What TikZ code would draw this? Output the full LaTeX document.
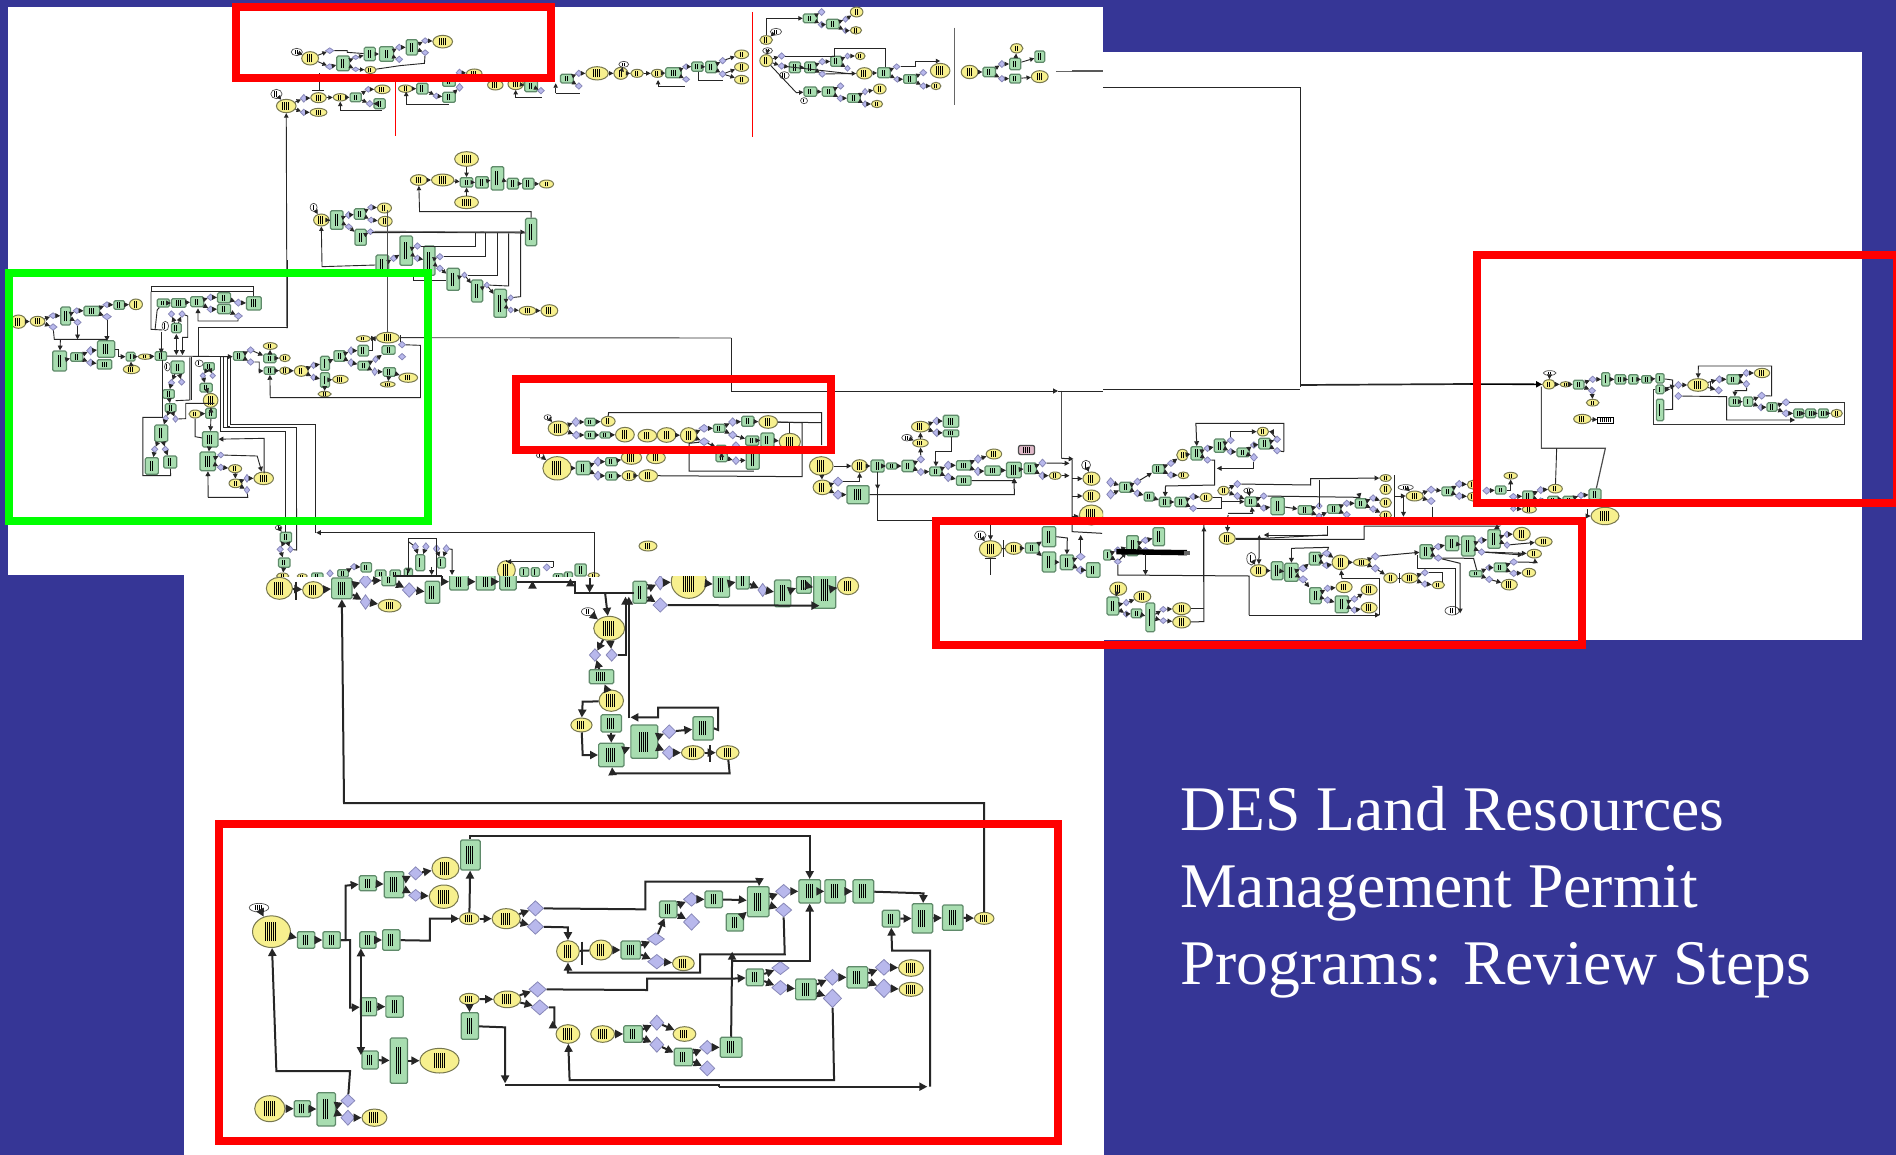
\documentclass[tikz,border=0pt]{standalone}
\usepackage{fontspec}
\setmainfont{Liberation Serif}
\usetikzlibrary{arrows.meta,shapes.geometric}
\definecolor{bgblue}{HTML}{363696}
\definecolor{gfill}{HTML}{A8DDB0}
\definecolor{gline}{HTML}{5F8A6A}
\definecolor{yfill}{HTML}{F7F08E}
\definecolor{yline}{HTML}{77774F}
\definecolor{dfill}{HTML}{B8B8EC}
\definecolor{dline}{HTML}{8888B8}
\definecolor{pinkf}{HTML}{DFB8C8}
\definecolor{frred}{HTML}{FF0000}
\definecolor{frgreen}{HTML}{00FF00}
\tikzset{
 gbox/.style={draw=gline,fill=gfill,rounded corners=.7pt,line width=.6pt,inner sep=0pt},
 ybox/.style={draw=yline,fill=yfill,ellipse,line width=.5pt,inner sep=0pt},
 dbox/.style={draw=dline,fill=dfill,diamond,line width=.4pt,inner sep=0pt},
 wbox/.style={draw=black!70,fill=white,ellipse,line width=.35pt,inner sep=0pt},
 frame/.style={line width=4pt},
 w/.style={draw=black!85,line width=\lwv},
 wa/.style={w,-{Triangle[length=\tipv,width=\tipv]}},
 wb/.style={w,{Triangle[length=\tipv,width=\tipv]}-{Triangle[length=\tipv,width=\tipv]}},
}
\newcommand\sxv{1}\newcommand\lwv{.5pt}\newcommand\tipv{2pt}
\newcount\mkc
\newcommand\mk[2]{\hbox{\mkc=0 \loop\ifnum\mkc<#1 \vrule width .45pt height #2pt depth 0pt\kern.55pt \advance\mkc by 1 \repeat}}
\newcommand\nodeset[2]{\foreach \n/\x/\y/\w/\h in {#2}{%
  \pgfmathsetmacro\wpt{\w/\sxv*.5}\pgfmathsetmacro\hpt{\h/3*.5}%
  \pgfmathtruncatemacro\nb{max(1,min(6,\wpt*.42))}\pgfmathsetmacro\hb{\hpt*.6}%
  \node[#1,minimum width=\wpt pt,minimum height=\hpt pt] (\n) at (\x,\y) {\mk{\nb}{\hb}};}}
\newcommand\RR[1]{\nodeset{gbox}{#1}}
\newcommand\EE[1]{\nodeset{ybox}{#1}}
\newcommand\TT[1]{\nodeset{wbox}{#1}}
\newcommand\DD[1]{\foreach \n/\x/\y/\w/\h in {#1}{%
  \pgfmathsetmacro\wpt{\w/\sxv*.5}\pgfmathsetmacro\hpt{\h/3*.5}%
  \node[dbox,minimum width=\wpt pt,minimum height=\hpt pt] (\n) at (\x,\y) {};}}
\newcommand\AR[1]{\foreach \a/\b in {#1}{\draw[wa] (\a) -- (\b);}}
\begin{document}
\begin{tikzpicture}[x=.5pt,y=-.5pt]
\useasboundingbox (0,0) rectangle (1896,1155);
\clip (0,0) rectangle (1896,1155);
\fill[bgblue] (0,0) rectangle (1896,1155);
\fill[white] (8,7) rectangle (1103,575);
\fill[white] (184,575) rectangle (1104,1155);
\fill[white] (1103,52) rectangle (1862,640);

% ---- ZONE 2: top clusters
\begin{scope}[shift={(0,0)},x=.3508pt,y=-.16667pt]
\renewcommand\sxv{1.4255}\renewcommand\lwv{.45pt}\renewcommand\tipv{2.2pt}
\TT{b1/423/156/16/22,b17/394/282/16/28,b46/889/193/14/18,b60/1106/95/16/20,b62/1094/152/14/18,b63/1118/226/14/22,b64/1146/302/10/18,b120/447/622/10/24}
\EE{b2/442/175/24/40,b10/528/210/16/22,b16/631/125/28/38,b18/408/318/28/40,b21/454/293/22/30,b22/454/337/24/24,b23/485/292/20/22,b27/545/268/22/26,b29/578/266/20/22,b36/676/220/22/26,b37/706/255/22/30,b38/735/252/22/34,b44/851/220/32/40,b45/885/220/20/36,b47/908/220/18/24,b48/937/220/18/24,b56/1057/163/20/26,b57/1057/201/20/26,b58/1057/239/20/26,b59/1092/120/18/26,b61/1092/182/18/36,b71/1221/36/18/30,b72/1220/91/16/22,b82/1226/168/14/22,b83/1232/220/22/34,b90/1334/258/14/22,b91/1340/212/28/44,b92/1382/216/24/40,b98/1449/145/18/28,b100/1482/230/24/36,b108/1254/267/18/30,b109/1250/312/16/22,b110/597/540/24/32,b111/631/540/32/36,b112/665/477/34/44,b113/665/607/34/38,b119/779/552/20/24,b121/458/660/22/36,b128/548/624/20/30,b129/549/664/20/30,b147/752/932/24/26,b148/783/932/24/36}
\RR{b5/489/190/18/44,b8/527/162/16/40,b9/551/162/20/44,b13/587/142/16/46,b24/507/292/16/26,b28/541/311/16/30,b30/602/266/16/32,b32/640/244/18/30,b33/640/292/18/30,b39/757/258/18/34,b41/808/236/18/26,b49/960/218/22/30,b52/994/200/16/28,b53/1014/201/16/34,b65/1155/55/20/26,b68/1187/72/18/28,b75/1133/202/16/32,b76/1155/202/16/32,b79/1192/184/16/30,b84/1260/218/18/30,b87/1297/237/18/26,b93/1410/216/18/28,b96/1447/192/16/34,b97/1447/236/16/26,b99/1482/170/14/34,b101/1155/275/18/28,b102/1181/275/18/28,b105/1217/294/18/26,b114/665/547/18/28,b115/687/547/18/34,b116/709/535/18/70,b117/731/551/16/32,b118/753/551/16/32,b122/480/660/18/56,b125/513/642/16/32,b130/514/712/16/48,b132/545/795/18/60,b133/579/752/18/88,b134/612/782/16/88,b140/646/838/18/66,b141/680/873/16/66,b142/713/910/18/84,b149/757/696/16/82}
\DD{b3/470/152/12/18,b4/470/200/12/18,b6/507/172/10/14,b7/507/208/10/14,b11/569/142/10/20,b12/569/178/10/20,b14/606/122/10/18,b15/606/158/10/18,b19/433/295/10/24,b20/433/337/10/20,b25/525/268/10/18,b26/527/311/10/20,b31/622/288/10/18,b34/655/218/10/22,b35/655/262/10/24,b40/771/272/10/20,b42/825/220/10/20,b43/825/258/10/20,b50/978/200/10/18,b51/978/238/10/18,b54/1030/182/10/20,b55/1030/222/10/20,b66/1171/36/10/22,b67/1171/74/10/20,b69/1205/58/8/18,b70/1205/92/8/18,b73/1114/168/10/20,b74/1114/198/10/20,b77/1172/185/10/20,b78/1172/222/10/20,b80/1208/168/8/18,b81/1208/205/8/18,b85/1278/200/10/18,b86/1279/238/10/18,b88/1316/218/10/20,b89/1316/258/10/20,b94/1428/192/10/22,b95/1428/236/10/20,b103/1198/258/10/20,b104/1198/295/10/20,b106/1233/275/8/20,b107/1233/312/8/20,b123/497/645/10/22,b124/497/680/10/18,b126/529/622/10/18,b127/529/660/10/18,b131/528/695/10/18,b135/561/775/10/20,b136/595/738/10/20,b137/595/775/10/20,b138/627/770/10/20,b139/627/805/10/20,b143/662/825/8/18,b144/694/855/8/18,b145/728/893/8/18,b146/728/930/8/18}
\AR{b2/b3,b2/b4,b4/b5,b5/b6,b5/b7,b7/b10,b6/b8,b8/b9,b9/b11,b9/b12,b11/b13,b13/b14,b13/b15,b14/b16,b18/b19,b18/b20,b19/b21,b20/b22,b21/b23,b23/b24,b24/b25,b24/b26,b25/b27,b26/b28,b29/b30,b30/b31,b31/b33,b33/b35,b32/b34,b34/b36,b38/b39,b39/b40,b41/b42,b41/b43,b42/b44,b44/b45,b45/b47,b47/b48,b48/b49,b49/b50,b49/b51,b50/b52,b52/b53,b53/b54,b53/b55,b54/b56,b55/b57,b55/b58,b65/b66,b65/b67,b67/b68,b68/b69,b68/b70,b69/b71,b70/b72,b61/b73,b61/b74,b74/b75,b75/b76,b76/b77,b76/b78,b77/b79,b79/b80,b79/b81,b80/b82,b78/b83,b83/b84,b84/b85,b84/b86,b86/b87,b87/b88,b87/b89,b89/b90,b92/b93,b93/b94,b93/b95,b94/b96,b95/b97,b96/b98,b97/b100,b96/b99,b101/b102,b102/b103,b102/b104,b104/b105,b105/b106,b105/b107,b106/b108,b107/b109,b110/b111,b112/b114,b113/b114,b111/b114,b114/b115,b115/b116,b116/b117,b117/b118,b118/b119,b121/b122,b122/b123,b122/b124,b123/b125,b125/b126,b125/b127,b126/b128,b127/b129,b124/b130,b130/b131,b132/b135,b135/b133,b133/b136,b133/b137,b137/b134,b134/b138,b134/b139,b139/b140,b140/b143,b143/b141,b141/b144,b144/b142,b142/b145,b142/b146,b146/b147,b147/b148,b120/b121,b17/b18,b1/b2,b46/b45,b60/b59,b62/b61}
\draw[w] (455,220) -- (455,270) (445,272) -- (462,272);
\draw[w] (b3) -| (495,157) -- (b8);
\draw[w] (b10) -- (570,197) -- (605,190) -- (b15);
\draw[wa] (579,313) -- (579,275); \draw[w] (579,313) -- (640,313);
\draw[wa] (485,330) -- (485,305); \draw[w] (485,330) -- (545,330);
\draw[wa] (735,293) -- (735,270); \draw[w] (735,293) -- (772,293);
\draw[wa] (792,280) -- (792,250); \draw[w] (792,280) -- (826,280);
\draw[wa] (938,258) -- (938,240); \draw[w] (938,258) -- (977,258);
\draw[w] (995,215) -- (995,240) -- (1030,240);
\draw[wa] (b59) |- (b65);
\draw[wa] (b61) -- (1135,278) -- (b101);
\draw[w] (b73) -| (1190,145) -- (1262,145) -- (1262,200);
\draw[w] (b74) -- (1215,222);
\draw[wa] (b85) -- (1305,200) -- (1305,183) -- (1340,183);
\draw[wa] (b149.north) |- (598,635) -- (b110.south);
\draw[wa] (b132.west) -- (459,800) -- (b121.south);
\draw[w,line width=.9pt,black!55] (b131) -- (750,698);
\draw[wa] (530,698) -- (b149.west);
\draw[w] (677,700) -- (677,738) -- (b136);
\draw[w] (692,700) -- (692,770) -- (b138);
\draw[w] (709,700) -- (709,825) -- (b143);
\draw[w] (725,700) -- (725,858) -- (b144);
\draw[w] (742,700) -- (742,890) -- (b145);
\draw[w] (590,830) -- (590,840) -- (635,840);
\draw[wa] (409,985) -- (b18.south);
\draw[w,black!60,line width=.6pt] (1505,215) -- (1568,215);
\draw[w,black!60] (1361,83) -- (1361,314);
\end{scope}
\draw[frred,line width=.45pt] (395,80) -- (395,136) (752,12) -- (752,137);

% ---- ZONE 3: green frame contents
\begin{scope}[shift={(0,260)},x=.2041pt,y=-.16667pt]
\renewcommand\sxv{2.45}\renewcommand\lwv{.45pt}\renewcommand\tipv{2.4pt}
\TT{c35/405/198/16/28,c38/410/320/14/26,c80/488/310/20/20}
\EE{c1/45/185/38/40,c2/92/184/36/30,c12/333/133/32/32,c20/322/328/40/26,c21/356/290/34/16,c53/662/258/34/20,c55/698/294/26/22,c57/698/332/26/22,c58/738/333/34/32,c63/834/358/38/24,c64/795/402/32/16,c70/890/236/34/18,c71/950/233/56/32,c78/950/373/36/16,c79/1000/353/46/28,c85/516/421/36/42,c86/478/462/30/24,c92/576/626/32/24,c93/577/670/32/26,c96/646/655/48/38}
\RR{c5/161/168/24/54,c8/225/153/38/28,c11/292/135/26/26,c13/146/303/34/60,c14/188/291/30/26,c17/260/267/42/50,c18/256/313/36/28,c19/320/290/22/26,c22/394/288/28/26,c23/400/129/30/24,c24/438/129/36/26,c25/483/125/32/30,c28/549/113/32/30,c29/549/147/32/28,c32/622/130/36/40,c36/432/204/24/28,c37/435/322/32/38,c41/413/402/28/26,c42/418/444/26/26,c45/395/520/32/50,c48/372/618/32/50,c49/417/606/32/36,c50/586/288/28/26,c54/661/295/30/26,c56/661/332/28/22,c61/796/310/22/42,c62/796/360/22/44,c65/832/288/28/32,c68/890/272/26/32,c69/891/317/28/26,c74/952/270/32/26,c75/954/336/30/26,c81/512/320/26/24,c84/505/383/30/26,c87/517/460/26/30,c88/515/538/38/46,c89/509/604/38/56}
\DD{c3/130/167/20/18,c4/130/201/20/20,c6/188/152/18/18,c7/190/187/18/20,c9/262/134/20/18,c10/262/170/22/20,c15/222/272/20/26,c16/222/308/20/22,c26/516/112/18/20,c27/516/148/18/20,c30/584/128/20/22,c31/584/168/20/20,c33/420/162/16/20,c34/446/162/16/20,c39/420/368/16/20,c40/445/366/16/20,c43/406/475/14/20,c44/430/477/14/20,c46/379/568/16/20,c47/405/568/16/20,c51/614/270/18/20,c52/614/306/18/20,c59/768/316/14/20,c60/768/352/14/20,c66/860/272/16/24,c67/860/308/16/24,c72/920/298/14/20,c73/918/335/14/24,c76/985/254/18/20,c77/985/290/18/20,c82/497/347/14/18,c83/521/347/14/18,c90/541/585/16/18,c91/541/622/18/20,c94/605/655/14/24,c95/605/690/14/22}
\AR{c1/c2,c2/c3,c2/c4,c3/c5,c5/c6,c5/c7,c6/c8,c8/c9,c8/c10,c9/c11,c11/c12,c13/c14,c14/c15,c14/c16,c15/c17,c16/c18,c19/c21,c21/c22,c20/c19,c50/c51,c50/c52,c51/c54,c54/c53,c54/c55,c56/c57,c57/c58,c58/c59,c58/c60,c59/c61,c60/c62,c61/c65,c62/c63,c62/c64,c65/c66,c65/c67,c66/c68,c67/c69,c69/c72,c69/c73,c72/c74,c73/c75,c75/c78,c75/c79,c70/c71,c23/c24,c24/c25,c25/c26,c25/c27,c26/c28,c27/c29,c28/c30,c29/c31,c30/c32,c36/c33,c36/c34,c37/c39,c37/c40,c39/c41,c41/c42,c42/c43,c42/c44,c43/c45,c45/c46,c45/c47,c46/c48,c47/c49,c81/c82,c81/c83,c82/c84,c84/c85,c85/c87,c86/c87,c87/c88,c88/c89,c89/c90,c89/c91,c91/c92,c92/c93,c93/c94,c93/c95,c94/c96}
\draw[w] (c4) -- (133,238) -- (262,238);
\draw[wa] (148,238) -- (c13); \draw[wa] (c7) -- (190,238); \draw[wa] (c10) -- (262,243);
\draw[wa] (c17.east) -- (290,267) -- (290,290) -- (c19);
\draw[wa] (c22) -- (570,290);
\draw[wa] (c52) -- (635,306) -- (635,333) -- (c56);
\draw[wa] (c68) -- (912,272) -- (912,236) -- (c70);
\draw[w,black!70] (c71.north) -- (950,-150);
\draw[w] (982,225) -- (982,245);
\draw[w,black!80] (c71.east) -- (1791,234);
\draw[wa] (c76) -- (1030,256) -- (1030,413) -- (662,413) -- (c56);
\draw[w] (487,290) -- (487,203) -- (705,203) -- (705,0);
\draw[w] (370,95) -- (370,80) -- (622,80) -- (c32);
\draw[w] (370,95) -- (622,95);
\draw[w] (370,95) -- (370,208) -- (398,210);
\draw[w] (c23) -- (385,150) -- (380,208);
\draw[wa] (395,215) -- (395,280);
\draw[wb] (432,222) -- (432,285);
\draw[wa] (c34) -- (460,168) -- (460,232) -- (447,232) -- (447,285);
\draw[wa] (c31) -- (583,183) -- (485,183) -- (485,145);
\draw[w] (398,300) -- (398,472) -- (350,472) -- (350,647) -- (418,647) -- (c49);
\draw[w] (465,292) -- (465,420) -- (430,422);
\draw[w] (470,292) -- (470,420);
\draw[w] (c44) -- (455,476) -- (455,430) -- (525,430);
\draw[w] (540,292) -- (540,515) -- (700,515) -- (700,770);
\draw[w] (548,292) -- (548,503) -- (726,503) -- (726,870);
\draw[w] (564,292) -- (564,492) -- (773,492) -- (773,818);
\draw[w] (556,292) -- (556,498) -- (564,498);
\draw[wa] (647,640) -- (647,535) -- (c88);
\draw[wa] (510,712) -- (c89);
\draw[w] (510,712) -- (607,712) -- (c95);
\draw[wa] (c90) -- (630,588) -- (c96);
\draw[w] (c86) -- (478,530) -- (c88);
\end{scope}

% ---- ZONE 5: middle row
\begin{scope}[shift={(500,360)},x=.2041pt,y=-.16667pt]
\renewcommand\sxv{2.45}\renewcommand\lwv{.5pt}\renewcommand\tipv{2.4pt}
\TT{e1/117/172/18/16,e23/98/286/18/16,e47/997/233/26/20}
\EE{e2/143/205/50/44,e8/265/184/34/30,e9/306/224/46/44,e10/361/227/46/38,e11/408/225/46/44,e12/462/226/40/46,e19/657/186/46/38,e22/710/245/52/50,e24/140/325/70/70,e30/322/293/50/40,e31/382/293/46/36,e32/316/347/34/30,e33/363/347/46/36,e39/787/318/58/56,e40/881/318/38/38,e46/1030/249/38/24,e48/1030/200/44/32,e60/1210/282/38/30,e66/1360/347/30/22,e67/790/382/46/44}
\RR{e5/221/186/26/22,e6/221/225/26/22,e7/258/225/26/18,e15/537/205/28/24,e18/607/184/30/30,e20/618/242/32/28,e21/655/240/32/42,e25/204/324/34/40,e28/273/305/28/24,e29/273/348/28/24,e34/542/268/26/24,e35/543/292/28/26,e38/619/300/32/56,e41/925/318/32/36,e42/960/318/26/18,e43/1000/318/30/34,e51/1105/184/38/36,e52/1105/220/38/20,e53/1068/334/30/26,e56/1136/316/36/28,e57/1136/362/36/28,e61/1207/332/38/28,e62/1259/330/36/46,e63/1299/325/30/32,e70/877/404/54/54}
\DD{e3/186/186/20/28,e4/187/225/20/24,e13/500/205/26/24,e14/500/245/26/24,e16/570/186/20/26,e17/570/225/20/24,e26/240/305/20/28,e27/240/347/20/28,e36/578/256/18/22,e37/578/302/18/24,e44/1031/298/18/22,e45/1031/336/18/22,e49/1070/183/20/24,e50/1070/218/20/24,e54/1098/316/20/26,e55/1098/352/20/26,e58/1171/297/18/26,e59/1171/334/18/26,e64/1329/309/18/24,e65/1329/347/18/24,e68/828/365/24/28,e69/828/404/24/28}
\node[draw=black!70,fill=pinkf,rounded corners=1pt,line width=.6pt,minimum width=8pt,minimum height=4.6pt,inner sep=0pt] (e71) at (1290,270) {\mk{4}{3}};
\AR{e1/e2,e2/e3,e2/e4,e3/e5,e5/e8,e4/e6,e6/e7,e7/e9,e11/e12,e12/e13,e12/e14,e13/e15,e15/e16,e15/e17,e16/e18,e18/e19,e17/e20,e20/e21,e21/e22,e14/e34,e34/e35,e35/e36,e35/e37,e36/e38,e37/e38,e23/e24,e24/e25,e25/e26,e25/e27,e26/e28,e27/e29,e28/e30,e29/e32,e32/e33,e39/e40,e40/e41,e41/e42,e42/e43,e43/e44,e43/e45,e44/e46,e46/e48,e48/e49,e48/e50,e49/e51,e50/e52,e45/e53,e53/e54,e53/e55,e54/e56,e55/e57,e56/e58,e56/e59,e58/e60,e59/e61,e61/e62,e62/e63,e63/e64,e63/e65,e65/e66,e47/e46,e39/e67,e67/e68,e67/e69,e69/e70}
\draw[w] (e8.north) -- (266,158) -- (788,158) -- (788,255);
\draw[w] (e19) -- (788,188);
\draw[w] (e19) -- (740,188) -- (740,350) -- (e33);
\draw[w] (e22) -- (710,190);
\draw[w] (e14) -- (463,250) -- (463,333) -- (622,333);
\draw[w] (566,-66) -- (566,92);
\draw[wa] (e68) -- (881,365) -- (e40);
\draw[wa] (e70) -- (1260,404) -- (e62);
\draw[wa] (925,335) -- (925,388);
\draw[w] (925,388) -- (925,480) -- (1060,480);
\draw[wa] (e52) -- (1105,275) -- (1068,275) -- (e53);
\draw[wa] (e57) -- (1260,362) -- (e62);
\draw[w,black!70,line width=.6pt] (1375,92) -- (1375,295);
\draw[wa] (1375,295) -- (1405,297);
\draw[wa] (e64) -- (1395,310);
\draw[wa] (e66) -- (1395,347);
\end{scope}
\begin{scope}
\renewcommand\lwv{.5pt}\renewcommand\tipv{2.4pt}
\draw[wa] (731,391) -- (1058,391);
\draw[w] (1058,391) -- (1103,391);
\end{scope}

% ---- ZONE 6
\begin{scope}[shift={(920,400)},x=.2232pt,y=-.16667pt]
\renewcommand\sxv{2.24}\renewcommand\lwv{.5pt}\renewcommand\tipv{2.4pt}
\begin{scope}
\clip (0,-400) rectangle (410,1000);
\TT{f2/372/195/20/28,f5/135/406/26/26}
\EE{f1/384/236/38/40,f3/384/288/38/36,f4/384/345/54/60,f6/158/447/50/50,f7/210/445/38/36}
\RR{f8/251/444/30/30,f9/289/410/30/60,f10/289/486/30/60,f11/329/487/30/44,f14/388/510/30/44}
\DD{f12/360/470/20/22,f13/360/510/20/24}
\AR{f5/f6,f7/f8,f8/f9,f8/f10,f10/f11,f11/f12,f11/f13,f13/f14,f2/f1}
\draw[w] (f6) -- (f7);
\draw[w] (341,180) -- (341,395) -- (408,400);
\draw[wa] (341,236) -- (f1); \draw[wa] (341,288) -- (f3); \draw[wa] (341,350) -- (f4);
\draw[wa] (158,375) -- (f6.north);
\draw[w] (145,475) -- (171,475) (158,475) -- (158,525);
\draw[w] (186,420) -- (186,470);
\draw[wa] (f9.east) -- (330,414) -- (f11.north);
\draw[wa] (f12) -- (360,405);
\end{scope}
\begin{scope}
\clip (410,-400) rectangle (2000,1000);
\TT{f47/736/272/22/16,f65/1088/262/34/16,f94/742/476/20/38,f142/1192/632/32/26}
\EE{f21/588/165/26/34,f24/590/226/24/20,f32/768/95/26/26,f43/641/292/28/26,f44/680/272/26/26,f61/1043/234/26/20,f62/1043/268/26/30,f63/1043/308/26/28,f64/1043/346/26/26,f66/1108/288/38/30,f72/1238/254/24/26,f73/1238/290/24/26,f74/688/415/36/36,f83/444/566/38/40,f85/498/590/38/34,f92/586/626/40/36,f93/586/666/40/36,f95/759/512/38/36,f103/942/487/38/44,f104/990/487/38/22,f107/1054/534/30/30,f108/1097/534/36/30,f111/1161/555/28/22,f115/950/561/36/34,f119/1006/569/36/32,f120/1006/623/36/32,f131/1348/402/38/40,f132/1397/425/38/28,f133/1376/461/32/26,f140/1364/518/30/26,f141/1320/554/36/32}
\RR{f17/461/262/28/30,f20/534/207/26/26,f25/620/160/26/40,f28/671/137/24/40,f31/724/157/28/26,f35/772/131/26/32,f38/513/290/22/26,f39/549/306/26/28,f40/585/306/28/28,f48/741/305/26/28,f51/801/318/30/52,f52/863/330/32/26,f55/928/327/30/26,f58/988/310/26/28,f69/1182/274/26/26,f75/535/410/26/54,f76/476/437/26/60,f79/420/465/18/30,f84/432/618/26/54,f88/485/640/24/26,f89/516/652/20/86,f96/800/512/26/54,f97/832/517/30/54,f100/885/476/26/38,f112/886/587/26/48,f116/945/613/30/50,f121/1134/455/28/42,f124/1192/430/30/44,f125/1228/438/30/60,f128/1286/417/28/56,f134/1245/521/28/18,f135/1300/502/28/26}
\DD{f15/427/247/18/28,f16/427/283/18/28,f18/487/245/16/22,f19/487/280/16/22,f22/562/190/16/20,f23/562/225/16/20,f26/644/145/16/20,f27/644/180/16/20,f29/696/121/16/20,f30/696/155/16/20,f33/748/135/16/20,f34/748/172/16/24,f36/800/118/16/20,f37/800/152/16/20,f41/612/290/16/20,f42/612/325/16/20,f45/711/252/16/22,f46/711/288/16/22,f49/770/288/16/20,f50/770/324/16/20,f53/894/318/14/20,f54/894/348/14/18,f56/956/310/16/20,f57/956/344/16/20,f59/1015/294/16/20,f60/1015/327/16/20,f67/1145/269/18/22,f68/1145/303/18/22,f70/1208/252/18/22,f71/1208/288/18/22,f77/505/421/18/20,f78/505/451/18/18,f80/443/450/16/20,f81/443/485/16/18,f86/462/608/14/20,f87/462/642/14/20,f90/545/628/16/18,f91/545/662/16/18,f98/858/505/20/22,f99/858/538/20/22,f101/911/460/20/20,f102/911/496/20/20,f105/1020/469/18/22,f106/1020/505/18/22,f109/1131/518/16/20,f110/1131/552/16/20,f113/913/565/16/20,f114/913/600/16/20,f117/973/597/16/20,f118/973/630/16/20,f122/1161/440/18/20,f123/1161/474/18/20,f126/1258/421/16/20,f127/1258/456/16/20,f129/1315/403/14/20,f130/1315/435/14/20,f136/1275/503/16/20,f137/1275/538/16/20,f138/1330/486/18/20,f139/1330/520/18/20}
\AR{f15/f17,f16/f17,f17/f18,f17/f19,f18/f20,f19/f38,f20/f22,f20/f23,f22/f21,f23/f24,f21/f25,f25/f26,f25/f27,f26/f28,f28/f29,f28/f30,f30/f31,f31/f33,f31/f34,f33/f35,f35/f36,f35/f37,f38/f39,f39/f40,f40/f41,f40/f42,f41/f43,f44/f45,f44/f46,f46/f48,f48/f49,f48/f50,f50/f51,f51/f52,f52/f53,f52/f54,f54/f55,f55/f56,f55/f57,f56/f58,f58/f59,f58/f60,f59/f63,f60/f64,f65/f66,f66/f67,f66/f68,f67/f69,f69/f70,f69/f71,f70/f72,f71/f73,f76/f77,f76/f78,f77/f75,f79/f80,f79/f81,f81/f76,f80/f76,f83/f84,f84/f86,f84/f87,f86/f85,f87/f88,f88/f89,f89/f90,f89/f91,f90/f92,f91/f93,f94/f95,f95/f96,f96/f97,f97/f98,f97/f99,f98/f100,f100/f101,f100/f102,f101/f103,f102/f103,f103/f104,f104/f105,f104/f106,f106/f107,f108/f109,f108/f110,f110/f111,f99/f112,f112/f113,f112/f114,f113/f115,f114/f116,f116/f117,f116/f118,f117/f119,f118/f120,f121/f122,f121/f123,f122/f124,f124/f125,f125/f126,f125/f127,f126/f128,f128/f129,f128/f130,f129/f131,f130/f132,f127/f133,f134/f136,f134/f137,f136/f135,f135/f138,f135/f139,f139/f140,f137/f141,f105/f121,f47/f48}
\draw[line width=2.7pt,black] (440,455) -- (598,458);
\fill[black!60] (592,453) rectangle (604,464);
\draw[w] (f107) -- (f108);
\draw[w] (1075,520) -- (1075,550);
\draw[wa] (815,155) -- (815,70) -- (618,70) -- (f25.north);
\draw[w] (f37) -- (815,155);
\draw[wa] (f27) -- (660,180) -- (660,255) -- (550,258) -- (f39.north);
\draw[wa] (f34) -- (748,205) -- (665,205);
\draw[wa] (f29) |- (f32);
\draw[wa] (f36) -- (785,95) -- (f32);
\draw[wa] (f45) -- (875,255) -- (875,236) -- (f61);
\draw[wa] (f43) -- (676,292) -- (676,305) -- (f48);
\draw[wa] (690,345) -- (f74);
\draw[wa] (690,340) -- (745,340) -- (f48);
\draw[wa] (912,378) -- (912,405) -- (770,405);
\draw[w] (f74) -- (770,415) -- (912,405);
\draw[wa] (f74) -- (710,418) -- (995,418) -- (995,378) -- (1298,378) -- (f128.north);
\draw[wb] (760,405) -- (f95);
\draw[w] (f81) -- (443,525) -- (737,528) -- (737,645);
\draw[wa] (737,645) -- (1030,645);
\draw[wa] (f78) -- (505,525);
\draw[w] (636,375) -- (636,665) -- (f93);
\draw[w] (f92) -- (636,626);
\draw[wa] (636,545) -- (636,380);
\draw[w] (1030,645) -- (1030,536) -- (945,536);
\draw[wa] (945,536) -- (f103);
\draw[wa] (832,445) -- (f97);
\draw[w] (832,445) -- (915,442) -- (f101);
\draw[w] (1115,465) -- (1115,505) -- (1200,505) -- (1200,645);
\draw[wa] (f123) -- (1210,490) -- (1210,640);
\draw[w] (f123) -- (1240,475) -- (1247,510);
\draw[wa] (f127) -- (1350,465);
\draw[w] (f109) -- (1170,518) -- (1170,545);
\draw[wa] (f138) -- (1378,487) -- (f133);
\draw[w] (1062,225) -- (1062,350);
\draw[wa] (1062,288) -- (f66);
\draw[wa] (1083,290) -- (1083,350);
\draw[wa] (f49) -- (985,292) -- (f58);
\draw[w] (895,240) -- (895,320);
\draw[w] (f42) -- (676,325) -- (676,305);
\draw[w] (1148,320) -- (1148,350);
\end{scope}
\end{scope}

% ---- ZONE 7: right panel
\begin{scope}[shift={(1470,240)},x=.16667pt,y=-.16667pt]
\renewcommand\sxv{3}\renewcommand\lwv{.45pt}\renewcommand\tipv{2.4pt}
\TT{g1/239/399/38/14}
\EE{g2/237/433/38/28,g3/287/433/34/16,g7/368/488/38/20,g17/684/435/62/38,g23/876/399/46/28,g34/1100/520/34/24,g35/337/537/52/28,g37/122/707/40/20,g44/256/746/42/26,g50/178/808/42/22,g52/405/828/84/52}
\RR{g4/326/434/32/26,g8/407/418/24/40,g9/451/418/32/28,g10/490/418/28/28,g11/530/418/30/22,g12/570/415/24/28,g13/570/448/24/26,g14/570/510/22/64,g20/790/418/38/28,g24/794/485/34/28,g25/834/485/28/28,g28/906/501/30/26,g31/986/520/30/26,g32/1022/520/30/26,g33/1060/520/30/26,g39/92/750/32/24,g41/174/768/32/30,g45/375/763/36/32,g47/250/778/34/18,g48/296/778/34/18}
\DD{g5/368/418/22/20,g6/366/452/22/20,g15/625/435/22/22,g16/625/468/22/22,g18/748/418/22/22,g19/746/451/22/22,g21/829/399/20/22,g22/829/432/20/22,g26/875/467/24/22,g27/873/502/20/22,g29/948/487/24/22,g30/948/520/24/22,g38/50/752/24/22,g40/130/770/24/20,g42/212/750/22/22,g43/212/783/22/20,g46/333/766/22/20,g51/130/806/18/18}
\node[draw=black,fill=white,line width=.4pt,minimum width=8pt,minimum height=3pt,inner sep=0pt] (g36) at (407,540) {\mk{6}{1.6}};
\AR{g1/g2,g2/g3,g3/g4,g4/g5,g4/g6,g6/g7,g5/g8,g8/g9,g9/g10,g10/g11,g11/g12,g13/g15,g15/g17,g17/g18,g17/g19,g18/g20,g20/g21,g20/g22,g21/g23,g24/g25,g25/g26,g25/g27,g27/g28,g28/g29,g28/g30,g30/g31,g31/g32,g32/g33,g33/g34,g35/g36,g38/g39,g40/g41,g41/g42,g41/g43,g42/g44,g43/g47,g47/g48,g48/g46,g46/g45,g51/g50}
\draw[wa] (g39) -- (122,750) -- (g37);
\draw[line width=.8pt,black,-{Triangle[length=3pt,width=3pt]}] (0,432) -- (g2.west);
\draw[w,black!70,line width=.6pt] (214,440) -- (214,625) -- (406,625) -- (g45);
\draw[w] (260,625) -- (g44);
\draw[wa] (352,808) -- (352,828) -- (g52);
\draw[w] (g12) -- (608,420) -- (608,508) -- (g14);
\draw[wa] (g13) -- (600,448);
\draw[w,black!80] (g13.west) -- (551,448) -- (551,552) -- (1122,552) -- (1122,487) -- (958,487);
\draw[wa] (g16) -- (770,470) -- (770,540) -- (975,540);
\draw[wa] (g26) -- (905,468) -- (905,378) -- (685,378) -- (g17);
\draw[wa] (g22) -- (830,452) -- (795,452) -- (g24);
\draw[w] (722,425) -- (722,447);
\end{scope}

% ---- ZONE 4: band across the panel seam
\begin{scope}[shift={(250,510)},x=.2041pt,y=-.16667pt]
\renewcommand\sxv{2.45}\renewcommand\lwv{.5pt}\renewcommand\tipv{2.4pt}
\begin{scope}
\clip (-300,-100) rectangle (1500,198);
\TT{d40/70/53/16/14}
\EE{d45/80/198/30/18,d46/128/198/24/14,d61/628/180/44/56,d68/842/196/28/16,d69/975/108/44/30}
\RR{d41/88/82/28/30,d44/84/158/28/28,d47/165/198/28/18,d49/228/190/26/22,d51/285/172/26/28,d52/320/192/26/24,d53/356/192/26/24,d54/388/188/20/26,d59/417/158/22/48,d60/469/158/20/32,d62/672/186/22/26,d63/699/186/20/26,d65/755/198/24/14,d66/780/195/20/18,d67/810/180/28/36}
\DD{d42/74/118/16/20,d43/99/118/14/20,d48/196/190/16/22,d50/255/170/18/20,d55/405/110/16/24,d56/431/110/16/24,d57/457/116/16/24,d58/481/116/16/24,d64/727/172/18/22}
\AR{d40/d41,d41/d42,d41/d43,d42/d44,d44/d45,d49/d50,d50/d51,d55/d59,d56/d59,d57/d60,d58/d60}
\draw[w] (114,-5) -- (114,120) -- (d43);
\draw[w] (88,-5) -- (d41);
\draw[wa] (458,85) -- (388,85) -- (388,190);
\draw[w] (458,85) -- (458,195);
\draw[w] (388,95) -- (d55);
\draw[wa] (445,172) -- (445,195);
\draw[wa] (d58) -- (495,118) -- (495,195);
\draw[w] (350,197) -- (470,197);
\draw[wa] (743,172) -- (743,155) -- (628,155);
\draw[w] (628,155) -- (d61);
\draw[w] (d64) -- (743,172);
\end{scope}
\begin{scope}
\clip (-300,198) rectangle (1500,1000);
\renewcommand\lwv{1pt}\renewcommand\tipv{4pt}
\TT{d24/828/305/32/24}
\EE{d1/72/235/64/66,d2/155/240/52/50,d6/342/287/56/38,d16/1075/215/86/100,d23/1465/228/52/52,d25/880/355/76/72,d29/885/572/60/64,d30/812/645/52/42,d37/1085/728/56/42,d38/1170/728/56/42}
\RR{d3/225/235/50/62,d7/340/210/34/34,d9/447/247/36/66,d10/512/215/46/50,d11/577/215/46/50,d12/632/215/40/50,d13/955/247/34/66,d17/1155/225/40/74,d18/1207/212/32/50,d20/1305/250/40/80,d21/1357/225/36/50,d22/1408/240/54/110,d28/861/500/60/42,d31/885/640/50/52,d32/885/735/62/70,d33/966/695/66/100,d36/1110/655/50/70}
\DD{d4/283/213/30/42,d5/283/276/26/44,d8/390/240/34/44,d14/1005/218/26/44,d15/1005/285/36/44,d19/1256/240/24/40,d26/845/435/28/38,d27/886/435/28/38,d34/1027/665/34/42,d35/1027/728/34/42}
\AR{d1/d2,d2/d3,d3/d4,d3/d5,d5/d6,d4/d7,d7/d8,d8/d9,d10/d11,d11/d12,d13/d14,d13/d15,d14/d16,d16/d17,d17/d18,d18/d19,d19/d20,d20/d21,d21/d22,d22/d23,d24/d25,d25/d26,d25/d27,d28/d26,d29/d28,d31/d32,d32/d33,d33/d34,d33/d35,d34/d36,d35/d37,d37/d38}
\draw[w] (112,215) -- (112,270);
\draw[wa] (350,197) -- (470,197) -- (470,215) -- (d10);
\draw[w] (d12) -- (795,215) -- (795,250) -- (940,250);
\draw[wa] (870,250) -- (d25);
\draw[wa] (832,205) -- (832,248);
\draw[wa] (692,232) -- (692,212);
\draw[wa] (785,218) -- (785,205);
\draw[wa] (d27) -- (920,435) -- (920,260);
\draw[wa] (928,625) -- (928,260);
\draw[wa] (d36.east) -- (1147,660) -- (1147,593) -- (1000,593) -- (1000,622) -- (932,622);
\draw[wa] (d15) -- (1395,287);
\draw[wa] (d29) -- (830,575) -- (815,575) -- (d30);
\draw[wa] (d30) -- (815,735) -- (d32);
\draw[wa] (d38) -- (1175,790) -- (888,790) -- (d32);
\draw[w] (1128,705) -- (1128,755);
\end{scope}
\draw[wa] (843,195) -- (843,68) -- (162,68);
\draw[w] (160,68) -- (160,-5);
\end{scope}

% ---- ZONE 1: lower framed diagram
\begin{scope}[shift={(220,820)},x=.271pt,y=-.16667pt]
\renewcommand\sxv{1.845}\renewcommand\lwv{1pt}\renewcommand\tipv{4pt}
\TT{a75/72/263/36/26}
\EE{a1/95/335/70/95,a8/416/145/50/66,a9/413/230/54/70,a13/460/296/36/36,a14/528/296/52/60,a17/642/394/42/64,a18/703/390/42/60,a22/855/430/40/44,a37/1410/295/36/36,a47/1275/444/46/50,a48/1275/508/44/42,a51/460/537/36/34,a52/530/538/50/50,a56/642/642/44/56,a57/706/642/44/50,a61/857/642/42/44,a68/405/722/72/74,a69/92/866/56/78,a74/285/893/46/52}
\RR{a2/159/360/32/50,a3/206/360/32/50,a4/273/190/32/45,a5/321/194/36/78,a10/462/105/36/90,a11/273/360/30/50,a12/316/360/32/62,a19/758/390/36/54,a23/827/268/32/50,a26/911/238/32/50,a27/950/307/32/52,a28/993/245/40/90,a31/1088/214/40/70,a32/1135/214/38/70,a33/1187/214/38/70,a34/1238/296/32/50,a35/1296/295/38/88,a36/1352/293/38/76,a38/987/472/32/50,a41/1081/508/38/62,a44/1176/472/38/64,a49/274/560/30/54,a50/322/560/32/64,a55/461/618/32/80,a58/762/642/34/50,a62/855/711/34/52,a65/943/682/40/60,a66/277/720/30/54,a67/330/722/32/136,a70/152/866/30/48,a71/196/868/34/100}
\DD{a6/361/160/26/40,a7/361/226/26/36,a15/582/265/30/46,a16/582/320/30/46,a20/804/357/32/38,a21/806/425/34/44,a24/870/238/30/42,a25/870/306/30/50,a29/1040/214/30/42,a30/1040/270/30/42,a39/1034/444/32/40,a40/1034/503/32/44,a42/1130/472/30/48,a43/1130/535/34/56,a45/1225/442/32/48,a46/1225/505/34/56,a53/586/508/32/46,a54/590/562/32/46,a59/806/608/26/46,a60/806/674/26/46,a63/899/682/28/42,a64/899/745/28/46,a72/236/842/26/40,a73/236/893/26/46}
\AR{a1/a2,a2/a3,a4/a5,a5/a6,a5/a7,a6/a8,a7/a9,a11/a12,a13/a14,a14/a15,a14/a16,a18/a19,a19/a20,a19/a21,a21/a22,a23/a24,a23/a25,a24/a26,a28/a29,a28/a30,a29/a31,a31/a32,a32/a33,a34/a35,a35/a36,a36/a37,a38/a39,a38/a40,a40/a41,a41/a42,a41/a43,a42/a44,a44/a45,a44/a46,a45/a47,a46/a48,a49/a50,a51/a52,a52/a53,a52/a54,a57/a58,a58/a59,a58/a60,a59/a61,a60/a62,a62/a63,a62/a64,a63/a65,a66/a67,a67/a68,a69/a70,a70/a71,a71/a72,a71/a73,a73/a74,a75/a1,a51/a55,a27/a28}
\draw[w] (a17) -- (a18);
\draw[w,line width=.6pt] (668,365) -- (668,435);
\draw[wa] (a3.east) -- (232,360) -- (232,197) -- (a4);
\draw[wa] (a3.east) -- (240,360) -- (240,563) -- (a49);
\draw[wb] (260,385) -- (260,705);
\draw[wa] (a12) -- (387,362) -- (387,296) -- (a13);
\draw[wa] (a13) -- (a10);
\draw[wa] (a10.north) -- (462,48) -- (1088,48) -- (a31);
\draw[wa] (a15) -- (785,268) -- (785,185) -- (995,185) -- (a28);
\draw[wa] (a16) -- (642,322) -- (a17);
\draw[wa] (a20) -- (a23);
\draw[wa] (a26) -- (965,240) -- (a28);
\draw[wa] (a30.south) -- (1042,403) -- (886,403) -- (886,458) -- (642,458) -- (a17);
\draw[wa] (a65.north) -- (945,395);
\draw[wa] (945,422) -- (1088,422) -- (a31);
\draw[wa] (a53) -- (788,510) -- (788,476) -- (945,476) -- (a38);
\draw[wa] (a54) -- (617,562) -- (617,620) -- (a56);
\draw[wa] (a55) -- (526,622) -- (526,790);
\draw[w] (526,795) -- (920,795) -- (920,800);
\draw[wa] (920,800) -- (1305,800);
\draw[wa] (1310,800) -- (1310,392) -- (1240,392) -- (a34);
\draw[wa] (a43) -- (1133,780) -- (645,780) -- (a56);
\draw[wa] (a72) -- (240,753) -- (104,753) -- (a1);
\draw[wa] (a33) -- (1298,220) -- (a35);
\end{scope}
\begin{scope}
\renewcommand\lwv{1pt}\renewcommand\tipv{4pt}
\draw[wa] (a37.north) |- (344,803) -- (d3.south);
\draw[w,black!65,line width=.6pt] (1072,71) -- (1103,71);
\renewcommand\lwv{.5pt}
\draw[w] (1103,88) -- (1300,88) -- (1300,387);
\draw[w] (1103,389) -- (1300,389);
\draw[w,line width=.85pt] (1300,385) -- (1470,384);
\end{scope}

% ---- frames
\draw[frame,frred] (236,7) rectangle (551,78);
\draw[frame,frgreen] (9,273) rectangle (428,521);
\draw[frame,frred] (516,379) rectangle (831,450);
\draw[frame,frred] (936,521) rectangle (1582,645);
\draw[frame,frred] (1477,255) rectangle (1897,503);
\draw[frame,frred] (219,824) rectangle (1058,1141);

\node[anchor=north west,align=left,text=white,inner sep=0pt,font=\fontsize{31.8}{38.5}\selectfont] (title) at (1180,786) {DES Land Resources\\Management Permit\\Programs: Review Steps};
\end{tikzpicture}
\end{document}
